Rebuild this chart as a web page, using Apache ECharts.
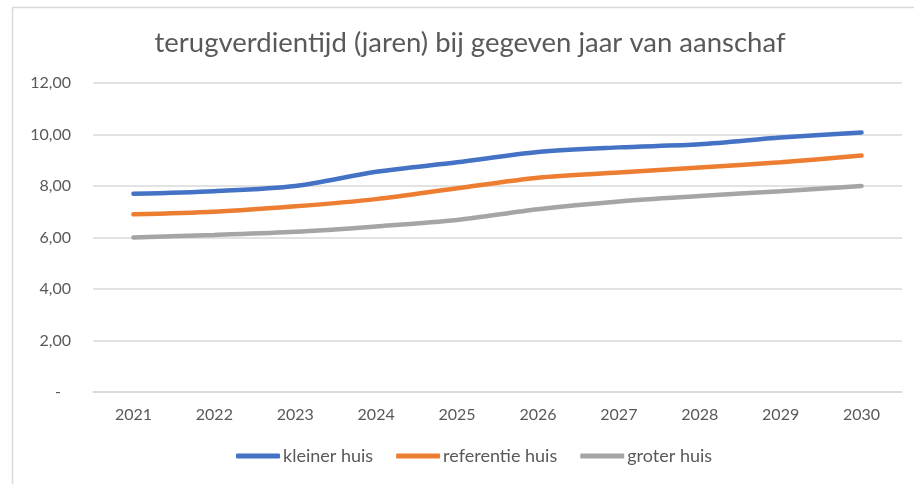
<!DOCTYPE html>
<html>
<head>
<meta charset="utf-8">
<script src="https://cdn.jsdelivr.net/npm/echarts@6/dist/echarts.min.js"></script>
<style>
html,body{margin:0;padding:0;background:#fff;}
#chart{width:914px;height:484px;}
</style>
</head>
<body>
<div id="chart"></div>
<script>
const titleText = 'terugverdientijd (jaren) bij gegeven jaar van aanschaf';
const categories = ['2021','2022','2023','2024','2025','2026','2027','2028','2029','2030'];
const seriesNames = ['kleiner huis','referentie huis','groter huis'];
const kleinerHuis = [7.7, 7.8, 8.0, 8.55, 8.92, 9.32, 9.5, 9.62, 9.88, 10.08];
const referentieHuis = [6.9, 7.0, 7.21, 7.49, 7.91, 8.32, 8.52, 8.72, 8.92, 9.18];
const groterHuis = [6.0, 6.1, 6.22, 6.43, 6.68, 7.1, 7.4, 7.61, 7.8, 8.0];
const yTicks = [0, 2, 4, 6, 8, 10, 12];
const colors = ['#4472C4', '#ED7D31', '#A5A5A5'];

const FONT = 'Lato, "Open Sans", sans-serif';
const chart = echarts.init(document.getElementById('chart'), null, {renderer: 'canvas'});
const data = [kleinerHuis, referentieHuis, groterHuis];

chart.setOption({
  animation: false,
  backgroundColor: '#fff',
  color: colors,
  graphic: [{
    type: 'rect', left: 10, top: 5, silent: true,
    shape: {width: 920, height: 500},
    style: {fill: 'none', stroke: '#D9D9D9', lineWidth: 1.5}
  }],
  title: {
    text: titleText, left: 465, top: 24, textAlign: 'center',
    textStyle: {fontFamily: FONT, fontSize: 27.5, fontWeight: 'normal', color: '#595959'}
  },
  grid: {left: 93, right: 12, top: 83, bottom: 92, containLabel: false},
  legend: {
    bottom: 14, left: 231,
    itemWidth: 44, itemHeight: 5, itemGap: 23,
    icon: 'roundRect',
    data: seriesNames,
    textStyle: {fontFamily: FONT, fontSize: 18, color: '#595959', padding: [0,0,0,-2]}
  },
  xAxis: {
    type: 'category', data: categories, boundaryGap: true,
    axisLine: {lineStyle: {color: '#D9D9D9', width: 1.5}},
    axisTick: {show: false},
    axisLabel: {fontFamily: FONT, fontSize: 16, color: '#595959', margin: 15}
  },
  yAxis: {
    type: 'value', min: yTicks[0], max: yTicks[yTicks.length-1], interval: 2,
    axisLine: {show: false}, axisTick: {show: false},
    splitLine: {lineStyle: {color: '#D9D9D9', width: 1.5}},
    axisLabel: {
      fontFamily: FONT, fontSize: 16, color: '#595959', margin: 22,
      formatter: v => v === 0 ? '{d|-}' : v.toFixed(2).replace('.', ','),
      rich: {d: {fontFamily: FONT, fontSize: 16, color: '#595959', padding: [0, 10, 0, 0]}}
    }
  },
  series: seriesNames.map((n, i) => ({
    name: n, type: 'line', data: data[i], smooth: 0.3,
    showSymbol: false, symbol: 'none',
    lineStyle: {width: 4.5, color: colors[i], cap: 'round'},
    itemStyle: {color: colors[i]}
  }))
});
</script>
</body>
</html>
